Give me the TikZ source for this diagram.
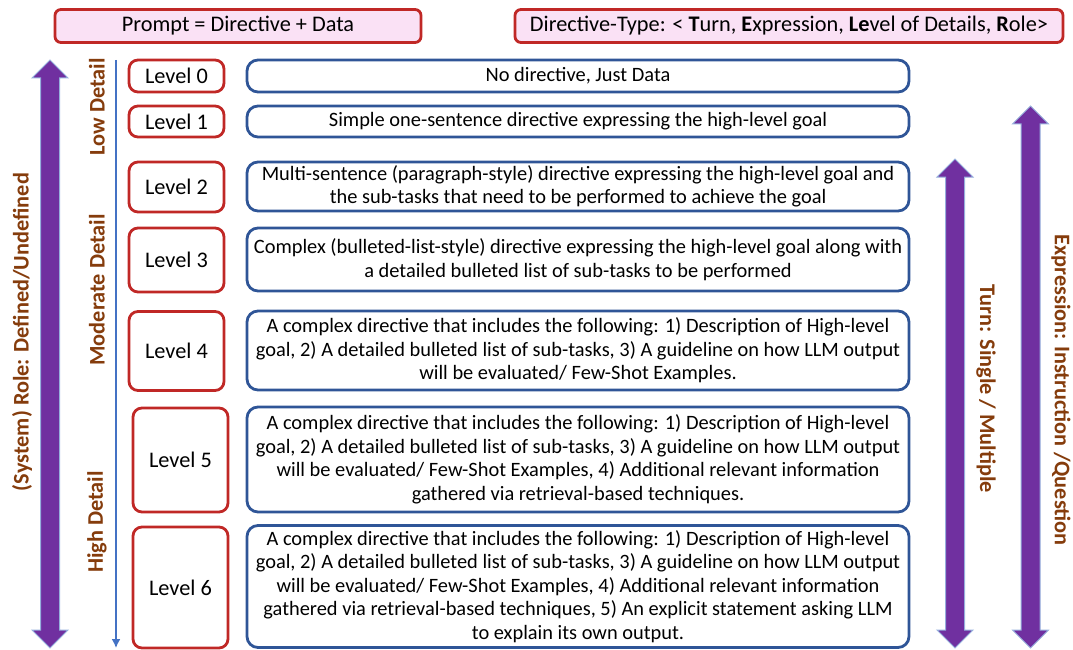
\documentclass[tikz,border=0pt]{standalone}
\usepackage{fontspec}
\setmainfont{Carlito}
\usetikzlibrary{arrows.meta}

\definecolor{redbox}{RGB}{192,40,38}
\definecolor{bluebox}{RGB}{47,85,151}
\definecolor{pinkbg}{RGB}{250,225,245}
\definecolor{purplearr}{RGB}{112,48,160}
\definecolor{arrowedge}{RGB}{150,175,220}
\definecolor{brownlbl}{RGB}{133,60,12}
\definecolor{detailblue}{RGB}{68,114,196}

\tikzset{>={Latex[length=9pt, width=9pt]},
                 hdr/.style={draw=redbox, fill=pinkbg, line width=2.8pt, rounded corners=6pt, minimum height=33pt, font=\fontsize{22.3}{24}\selectfont},
                 lvl/.style={draw=redbox, line width=2.8pt, rounded corners=9pt, minimum width=95pt, font=\fontsize{22.3}{24}\selectfont},
                desc/.style={draw=bluebox, line width=2.8pt, rounded corners=11pt, minimum width=662pt, align=center, font=\fontsize{20.4}{23.5}\selectfont},
                side/.style={text=brownlbl, font=\fontsize{22.3}{24}\selectfont\bfseries},
             bigarrow/.style={fill=purplearr, draw=arrowedge, line width=1pt}}

\begin{document}
\begin{tikzpicture}[x=1pt, y=-1pt]
            \useasboundingbox (0,0) rectangle (1073,650);

            \node[hdr, minimum width=366pt] at ( 238,  26) (prompt)  {Prompt = Directive + Data};
            \node[hdr, minimum width=548pt] at ( 789,  26) (dirtype) {Directive-Type: < \textbf{T}urn, \textbf{E}xpression, \textbf{Le}vel of Details, \textbf{R}ole>};

            \node[lvl, minimum height=32pt]  at (176.5,  76.0) (lvl0) {Level 0};
            \node[lvl, minimum height=31pt]  at (176.5, 121.5) (lvl1) {Level 1};
            \node[lvl, minimum height=50pt]  at (176.5, 187.0) (lvl2) {Level 2};
            \node[lvl, minimum height=64pt]  at (176.5, 260.0) (lvl3) {Level 3};
            \node[lvl, minimum height=79pt]  at (176.5, 351.0) (lvl4) {Level 4};
            \node[lvl, minimum height=104pt] at (180.5, 460.0) (lvl5) {Level 5};
            \node[lvl, minimum height=121pt] at (180.5, 587.5) (lvl6) {Level 6};

            \node[desc, minimum height=32pt]  at (578,  76.0) (desc0) {No directive, Just Data};
            \node[desc, minimum height=31pt]  at (578, 121.5) (desc1) {Simple one-sentence directive expressing the high-level goal};
            \node[desc, minimum height=49pt]  at (578, 186.5) (desc2) {Multi-sentence (paragraph-style) directive expressing the high-level goal and\\ the sub-tasks that need to be performed to achieve the goal};
            \node[desc, minimum height=63pt]  at (578, 259.5) (desc3) {Complex (bulleted-list-style) directive expressing the high-level goal along with\\ a detailed bulleted list of sub-tasks to be performed};
            \node[desc, minimum height=79pt]  at (578, 350.5) (desc4) {A complex directive that includes the following: 1) Description of High-level\\ goal, 2) A detailed bulleted list of sub-tasks, 3) A guideline on how LLM output\\ will be evaluated/ Few-Shot Examples.};
            \node[desc, minimum height=105pt] at (578, 459.5) (desc5) {A complex directive that includes the following: 1) Description of High-level\\ goal, 2) A detailed bulleted list of sub-tasks, 3) A guideline on how LLM output\\ will be evaluated/ Few-Shot Examples, 4) Additional relevant information\\ gathered via retrieval-based techniques.};
            \node[desc, minimum height=122pt] at (578, 586.5) (desc6) {A complex directive that includes the following: 1) Description of High-level\\ goal, 2) A detailed bulleted list of sub-tasks, 3) A guideline on how LLM output\\ will be evaluated/ Few-Shot Examples, 4) Additional relevant information\\ gathered via retrieval-based techniques, 5) An explicit statement asking LLM\\ to explain its own output.};

            % purple double arrows: centre / top tip / bottom tip
            \foreach \c/\t/\b in {50/60/648, 955/159/648, 1030.5/106/648}
                \draw[bigarrow]
                       (\c,\t)
                    -- (\c+18,\t+18) -- (\c+9.5,\t+18)
                    -- (\c+9.5,\b-18) -- (\c+18,\b-18)
                    -- (\c,\b)
                    -- (\c-18,\b-18) -- (\c-9.5,\b-18)
                    -- (\c-9.5,\t+18) -- (\c-18,\t+18)
                    -- cycle;

            \node[side, rotate=90]  at (  22, 332) (role)     {(System) Role: Defined/Undefined};
            \node[side, rotate=90]  at (  97, 107) (low)      {Low Detail};
            \node[side, rotate=90]  at (  97, 290) (moderate) {Moderate Detail};
            \node[side, rotate=90]  at (  97, 522) (high)     {High Detail};
            \node[side, rotate=-90] at ( 986, 389) (turn)     {Turn: Single / Multiple};
            \node[side, rotate=-90] at (1061, 390) (expr)     {Expression: Instruction /Question};

            \coordinate (dtop) at (116,  60);
            \coordinate (dbot) at (116, 648);
            \draw[detailblue, line width=1.6pt, ->] (dtop) -- (dbot);
        \end{tikzpicture}
\end{document}
